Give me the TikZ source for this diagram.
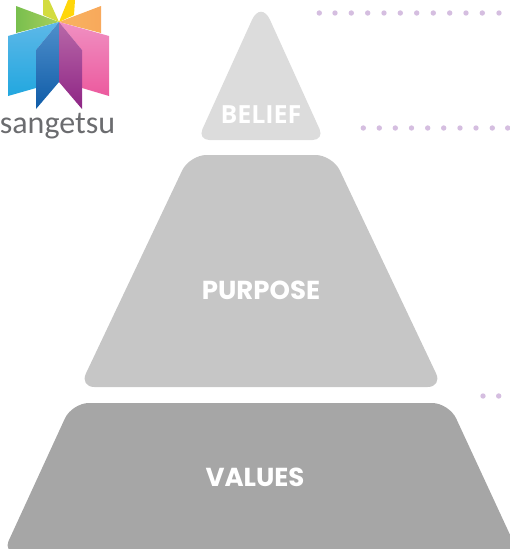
\documentclass[tikz,border=0pt]{standalone}
\usepackage{fontspec}
\setmainfont{Poppins}
\newfontfamily\beliefFont{Open Sans}
\newfontfamily\logoFont{Carlito}
\definecolor{tierTop}{HTML}{DCDCDC}
\definecolor{tierMid}{HTML}{C6C6C6}
\definecolor{tierLow}{HTML}{A6A6A6}
\definecolor{dotLilac}{HTML}{D5BEE0}
\definecolor{logoGrey}{HTML}{6B6C6F}
\definecolor{greenA}{HTML}{78BF4E}
\definecolor{greenB}{HTML}{A9CF5C}
\definecolor{limeA}{HTML}{D3DC3F}
\definecolor{sunA}{HTML}{FFD60A}
\definecolor{peachA}{HTML}{F9B35F}
\definecolor{peachB}{HTML}{F8A95C}
\definecolor{skyA}{HTML}{5DB8E8}
\definecolor{skyB}{HTML}{22A7DF}
\definecolor{pinkA}{HTML}{F090C2}
\definecolor{pinkB}{HTML}{EC5A9E}
\definecolor{navyA}{HTML}{4F8FCB}
\definecolor{navyB}{HTML}{0F5CA8}
\definecolor{plumA}{HTML}{B868A8}
\definecolor{plumB}{HTML}{8E2585}
\tikzset{
  tierlabel/.style={text=white, font=\fontsize{26}{30}\selectfont\bfseries, inner sep=0pt},
  lilacdot/.style={fill=dotLilac}
}
\begin{document}
\begin{tikzpicture}[x=1pt, y=-1pt]
  \useasboundingbox (0,0) rectangle (510,549);
  \begin{scope}
  \clip (0,0) rectangle (510,549);
  % pyramid
  \fill [tierTop] (261,140) [rounded corners=12] -- (197.5,140) [rounded corners=22] -- (261,0) [rounded corners=12] -- (324.5,140) [sharp corners] -- cycle;
  \fill [tierMid] (261,155) [rounded corners=17] -- (332.5,155) [rounded corners=15] -- (442.5,387) -- (79.5,387) [rounded corners=17] -- (189.5,155) [sharp corners] -- cycle;
  \fill [tierLow] (261,403) [rounded corners=17] -- (449,403) [rounded corners=12] -- (518,552) -- (3.5,552) [rounded corners=17] -- (72,403) [sharp corners] -- cycle;

  % logo
  \shade [left color=greenA, right color=greenB] (16,6) -- (59,22) -- (16,33) -- cycle;
  \fill [limeA] (43,0) -- (49,0) -- (59,22) -- (43,15) -- cycle;
  \fill [sunA] (68,0) -- (75,0) -- (74,15) -- (59,22) -- cycle;
  \shade [left color=peachA, right color=peachB] (101,6) -- (101,33) -- (59,22) -- cycle;
  \shade [top color=skyA, bottom color=skyB] (8,36) -- (59,22) -- (36,50) -- (36,88) -- (8,96) -- cycle;
  \shade [top color=pinkA, bottom color=pinkB] (109,36) -- (59,22) -- (82,50) -- (82,88) -- (109,96) -- cycle;
  \shade [top color=navyA, bottom color=navyB] (59,22) -- (36,50) -- (36,109) -- (59,82) -- cycle;
  \shade [top color=plumA, bottom color=plumB] (59,22) -- (82,50) -- (82,109) -- (59,82) -- cycle;
  \end{scope}
  \node (logoname) at (57.5,126) [text=logoGrey, inner sep=0pt] {\logoFont\fontsize{32}{36}\selectfont sangetsu};

  % labels
  \node (belief) at (261,115) [tierlabel] {\beliefFont\fontsize{25}{30}\selectfont\bfseries BELIEF};
  \node (purpose) at (261,290) [tierlabel] {PURPOSE};
  \node (values) at (255,477) [tierlabel] {VALUES};

  % dots
  \fill [lilacdot] (319.3,13) circle (2.7);
  \fill [lilacdot] (335,13) circle (2.7);
  \fill [lilacdot] (351.3,13) circle (2.7);
  \fill [lilacdot] (367.7,13) circle (2.7);
  \fill [lilacdot] (384,13) circle (2.7);
  \fill [lilacdot] (400.3,13) circle (2.7);
  \fill [lilacdot] (416.7,13) circle (2.7);
  \fill [lilacdot] (433.3,13) circle (2.7);
  \fill [lilacdot] (449.7,13) circle (2.7);
  \fill [lilacdot] (466,13) circle (2.7);
  \fill [lilacdot] (482.3,13) circle (2.7);
  \fill [lilacdot] (499,13) circle (2.7);
  \fill [lilacdot] (363.3,128) circle (2.7);
  \fill [lilacdot] (379.3,128) circle (2.7);
  \fill [lilacdot] (395.3,128) circle (2.7);
  \fill [lilacdot] (411.5,128) circle (2.7);
  \fill [lilacdot] (427.7,128) circle (2.7);
  \fill [lilacdot] (443.7,128) circle (2.7);
  \fill [lilacdot] (460,128) circle (2.7);
  \fill [lilacdot] (476,128) circle (2.7);
  \fill [lilacdot] (492.3,128) circle (2.7);
  \fill [lilacdot] (507.7,128) circle (2.7);
  \fill [lilacdot] (483,396) circle (2.7);
  \fill [lilacdot] (498.7,396) circle (2.7);
\end{tikzpicture}
\end{document}
